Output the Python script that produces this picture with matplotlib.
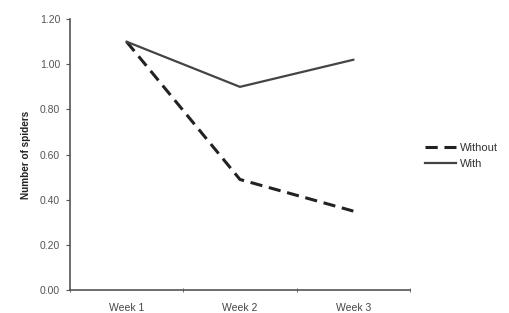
import matplotlib.pyplot as plt
import numpy as np

weeks = ['Week 1', 'Week 2', 'Week 3']
without = [1.10, 0.49, 0.35]
with_ = [1.10, 0.90, 1.02]

plt.rcParams['font.family'] = ['Liberation Sans', 'DejaVu Sans']

fig = plt.figure(figsize=(5.1, 3.13), dpi=100)
ax = fig.add_axes([0.137, 0.073, 0.667, 0.866])

x = np.arange(len(weeks))
ax.plot(x, without, color='#222222', linewidth=2.2, linestyle=(0, (4, 2.2)),
        label='Without')
ax.plot(x, with_, color='#444444', linewidth=1.6, label='With')

ax.set_xlim(-0.5, len(weeks) - 0.5)
ax.set_ylim(0, 1.2)
ax.set_yticks(np.arange(0, 1.21, 0.2))
ax.set_yticklabels(['%.2f' % v for v in np.arange(0, 1.21, 0.2)])
ax.set_xticks(x)
ax.set_xticklabels(weeks)
ax.set_xticks(np.arange(-0.5, len(weeks)), minor=True)
ax.tick_params(axis='x', which='major', length=0, pad=9, labelsize=7.5,
               colors='#444444')
ax.tick_params(axis='x', which='minor', length=3, direction='inout',
               color='#555555')
ax.tick_params(axis='y', length=3, direction='out', labelsize=7.5, pad=4,
               colors='#555555', color='#555555')

for s in ['top', 'right']:
    ax.spines[s].set_visible(False)
for s in ['left', 'bottom']:
    ax.spines[s].set_color('#555555')
    ax.spines[s].set_linewidth(1.2)

ax.set_ylabel('Number of spiders', fontsize=7.2, fontweight='bold',
              color='#222222', labelpad=6)

ax.legend(loc='center left', bbox_to_anchor=(1.015, 0.495), frameon=False,
          fontsize=8, handlelength=2.8, labelspacing=0.5,
          handletextpad=0.3, labelcolor='#333333')

fig.savefig('out.png', dpi=100)
